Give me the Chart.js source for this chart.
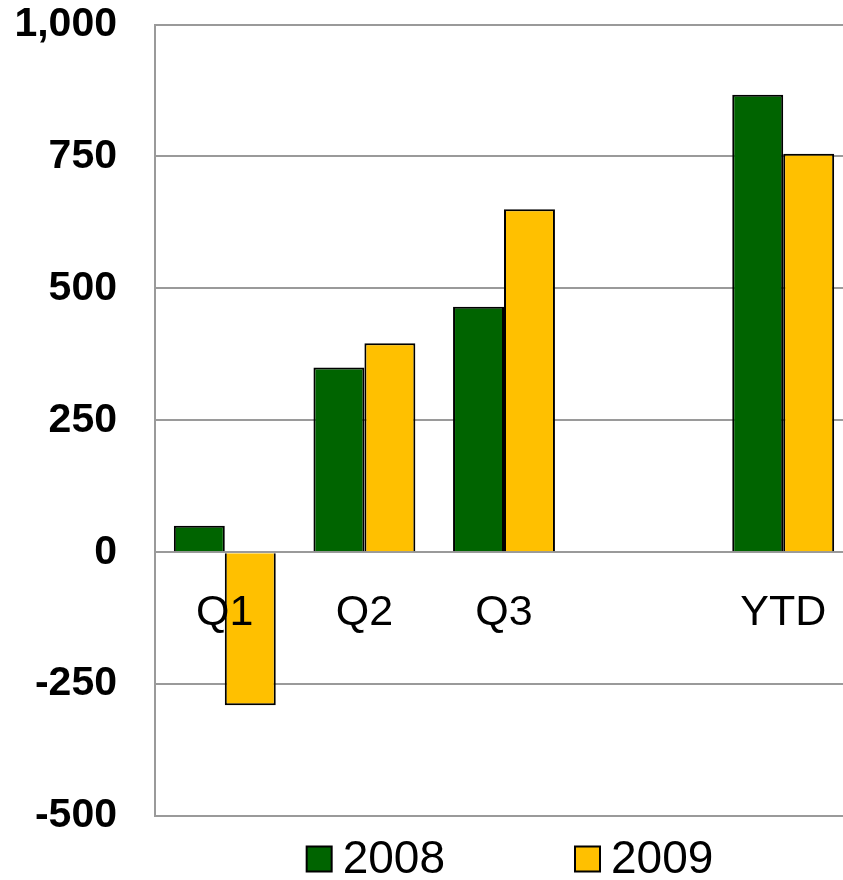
<!DOCTYPE html>
<html lang="en">
<head>
    <meta charset="UTF-8">
    <title>2008 vs 2009</title>
    <script src="https://cdn.jsdelivr.net/npm/chart.js@4.4.1/dist/chart.umd.min.js"></script>
    <style>
        html, body { margin: 0; padding: 0; overflow: hidden; background: #fff; }
        canvas { display: block; }
    </style>
</head>
<body>
<canvas id="bar-chart" width="860" height="880"></canvas>

<script>
// quarters + year to date, one empty slot before YTD
const categories = ['Q1', 'Q2', 'Q3', '', 'YTD'];
const values2008 = [50, 350, 465, null, 867];
const values2009 = [-290, 396, 650, null, 755];
const yTicks = [-500, -250, 0, 250, 500, 750, 1000];

const FONT = '"Liberation Sans", Arial, Helvetica, sans-serif';
const GRID = '#9a9a9a';

// legend drawn under the plot, big boxes far apart like the original
const bottomLegend = {
  id: 'bottomLegend',
  afterDraw(chart) {
    const ctx = chart.ctx;
    const area = chart.chartArea;
    const box = 25, gapText = 11, gapItem = 130;
    ctx.save();
    ctx.font = '46px ' + FONT;
    ctx.textBaseline = 'middle';
    const items = chart.data.datasets.map(ds => ({
      label: ds.label, color: ds.backgroundColor,
      w: box + gapText + ctx.measureText(ds.label).width
    }));
    let total = items.reduce((s, it) => s + it.w, 0) + gapItem * (items.length - 1);
    let x = (area.left + area.right) / 2 - total / 2 + 6;
    const y = 859;
    items.forEach(it => {
      ctx.fillStyle = it.color;
      ctx.fillRect(x, y - box / 2, box, box);
      ctx.lineWidth = 2;
      ctx.strokeStyle = '#000';
      ctx.strokeRect(x, y - box / 2, box, box);
      ctx.fillStyle = '#000';
      ctx.fillText(it.label, x + box + gapText, y + 1);
      x += it.w + gapItem;
    });
    ctx.restore();
  }
};

new Chart(document.getElementById('bar-chart'), {
  type: 'bar',
  data: {
    labels: categories,
    datasets: [{
      label: '2008',
      data: values2008,
      backgroundColor: '#006400',
      borderColor: '#000',
      borderWidth: 2
    }, {
      label: '2009',
      data: values2009,
      backgroundColor: '#FFC000',
      borderColor: '#000',
      borderWidth: 2
    }]
  },
  options: {
    responsive: false,
    animation: false,
    layout: { padding: { top: 1, right: 7, bottom: 64, left: 0 } },
    datasets: { bar: { categoryPercentage: 0.73, barPercentage: 1 } },
    plugins: { legend: { display: false }, tooltip: { enabled: false } },
    scales: {
      x: {
        position: { y: 0 },
        afterFit(scale) { scale.height = 0; },
        grid: { display: false },
        border: { display: true, color: GRID, width: 2 },
        ticks: { z: 1, color: '#000', padding: 27, maxRotation: 0, font: { family: FONT, size: 43 } }
      },
      y: {
        min: -500,
        max: 1000,
        afterFit(scale) { scale.width = 155; },
        afterBuildTicks(scale) { scale.ticks = yTicks.map(v => ({ value: v })); },
        // invisible tick marks give the gap between labels and the axis
        grid: { color: GRID, lineWidth: 2, drawTicks: true, tickLength: 38, tickColor: 'rgba(0,0,0,0)' },
        border: { display: true, color: GRID, width: 2 },
        ticks: {
          color: '#000',
          padding: 0,
          font: { family: FONT, size: 41, weight: 'bold' },
          callback: v => v.toLocaleString('en-US')
        }
      }
    }
  },
  plugins: [bottomLegend]
});
</script>
</body>
</html>
